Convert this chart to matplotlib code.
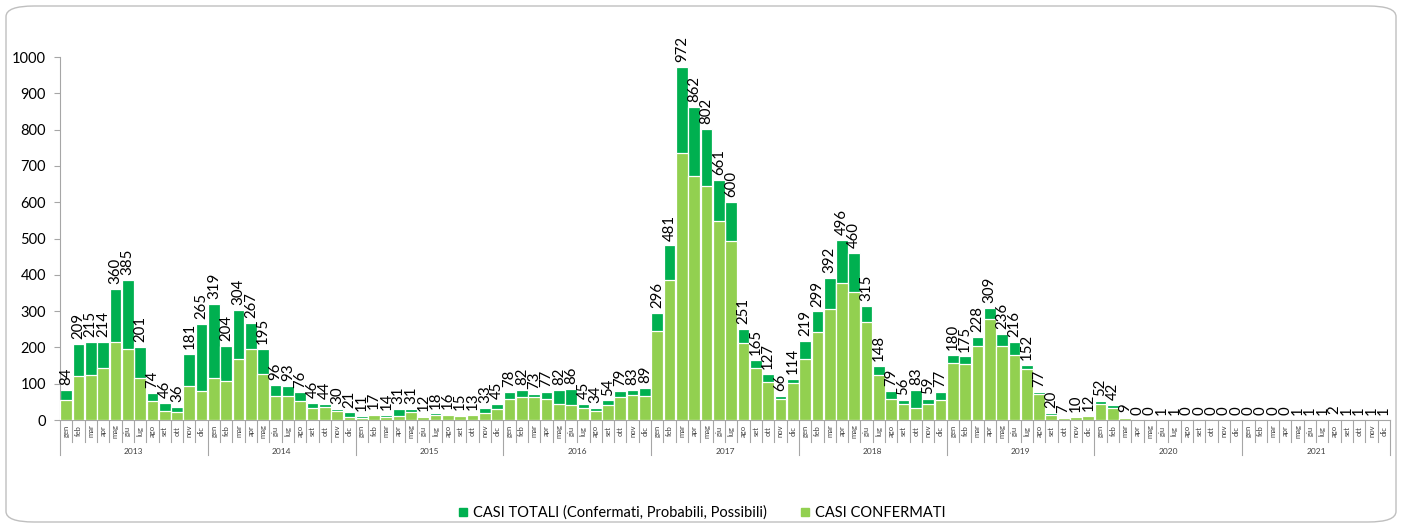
import matplotlib
matplotlib.use("Agg")
import matplotlib.pyplot as plt
from matplotlib.patches import FancyBboxPatch
from matplotlib.lines import Line2D
from matplotlib.transforms import blended_transform_factory
import numpy as np

plt.rcParams['font.family'] = ['Lato', 'DejaVu Sans']

# Dati mensili 2013-2021
anni = ['2013', '2014', '2015', '2016', '2017', '2018', '2019', '2020', '2021']
mesi = ['gen', 'feb', 'mar', 'apr', 'mag', 'giu', 'lug', 'ago', 'set', 'ott', 'nov', 'dic']

casi_totali = [
    84, 209, 215, 214, 360, 385, 201, 74, 46, 36, 181, 265,      # 2013
    319, 204, 304, 267, 195, 96, 93, 76, 46, 44, 30, 21,         # 2014
    11, 17, 14, 31, 31, 12, 18, 16, 15, 13, 33, 45,              # 2015
    78, 82, 73, 77, 82, 86, 45, 34, 54, 79, 83, 89,              # 2016
    296, 481, 972, 862, 802, 661, 600, 251, 165, 127, 66, 114,   # 2017
    219, 299, 392, 496, 460, 315, 148, 79, 56, 83, 59, 77,       # 2018
    180, 175, 228, 309, 236, 216, 152, 77, 20, 7, 10, 12,        # 2019
    52, 42, 9, 0, 0, 1, 1, 0, 0, 0, 0, 0,                        # 2020
    0, 0, 0, 0, 1, 1, 1, 2, 1, 1, 1, 1,                          # 2021
]

casi_confermati = [
    56, 120, 125, 143, 215, 195, 116, 53, 24, 23, 94, 80,
    116, 108, 169, 195, 126, 67, 67, 53, 32, 35, 24, 9,
    5, 14, 9, 11, 21, 8, 15, 14, 10, 13, 19, 29,
    59, 64, 64, 57, 45, 42, 33, 25, 42, 63, 68, 65,
    245, 385, 735, 673, 644, 547, 494, 213, 143, 106, 57, 103,
    168, 242, 305, 377, 352, 271, 123, 59, 44, 32, 43, 54,
    158, 155, 205, 278, 205, 179, 140, 73, 14, 6, 7, 10,
    43, 34, 6, 0, 0, 1, 1, 0, 0, 0, 0, 0,
    0, 0, 0, 0, 1, 1, 1, 2, 1, 1, 1, 1,
]

verde_scuro = '#00B050'
verde_chiaro = '#92D050'

W, H = 1402, 530
fig = plt.figure(figsize=(W / 100, H / 100), dpi=100)

# cornice arrotondata
bordo = FancyBboxPatch((6 / W, 8 / H), 1390 / W, 516 / H,
                       boxstyle="round,pad=0,rounding_size=0.02",
                       transform=fig.transFigure, facecolor='none',
                       edgecolor='#BFBFBF', linewidth=1.0, zorder=-10)
fig.add_artist(bordo)

ax = fig.add_axes([60 / W, 110 / H, 1330 / W, 363 / H])
ax.patch.set_alpha(0)

x = np.arange(len(casi_totali))
ax.bar(x, casi_totali, width=0.95, color=verde_scuro, edgecolor='white', linewidth=0.9, zorder=2)
ax.bar(x, casi_confermati, width=0.95, color=verde_chiaro, edgecolor='white', linewidth=0.9, zorder=3)

# etichette dei totali
for xi, v in zip(x, casi_totali):
    ax.annotate(str(v), (xi, v), xytext=(0, 3.5), textcoords='offset points',
                rotation=90, ha='center', va='bottom', fontsize=10.8, color='black',
                zorder=4)

ax.set_xlim(-0.5, len(casi_totali) - 0.5)
ax.set_ylim(0, 1000)
ax.set_yticks(range(0, 1001, 100))
ax.tick_params(axis='y', length=4, color='#A6A6A6', labelsize=10.5, pad=6)
ax.set_xticks([])
for s in ['top', 'right']:
    ax.spines[s].set_visible(False)
ax.spines['left'].set_color('#A6A6A6')
ax.spines['bottom'].set_color('#A6A6A6')

# asse x a due livelli: mesi e anni
tr = blended_transform_factory(ax.transData, ax.transAxes)
mese_len = 22 / 363
anno_len = 35 / 363
for i in range(len(casi_totali) + 1):
    b = i - 0.5
    lunghezza = anno_len if i % 12 == 0 else mese_len
    ax.add_line(Line2D([b, b], [0, -lunghezza], transform=tr, color='#A6A6A6',
                       linewidth=0.8, clip_on=False))
for i in range(len(casi_totali)):
    ax.text(i, -11 / 363, mesi[i % 12], transform=tr, rotation=90, ha='center',
            va='center', fontsize=5.5, color='#404040')
for j, a in enumerate(anni):
    ax.text(j * 12 + 5.5, -31 / 363, a, transform=tr, ha='center', va='center',
            fontsize=6, color='#404040')

# legenda
handles = [Line2D([], [], marker='s', linestyle='none', markersize=6, color=verde_scuro),
           Line2D([], [], marker='s', linestyle='none', markersize=6, color=verde_chiaro)]
fig.legend(handles, ['CASI TOTALI (Confermati, Probabili, Possibili)', 'CASI CONFERMATI'],
           loc='center', bbox_to_anchor=(0.5, 17 / H), ncol=2, frameon=False,
           fontsize=10.5, handlelength=0.8, handletextpad=0.3, columnspacing=2.2)

fig.savefig('out.png', dpi=100)
